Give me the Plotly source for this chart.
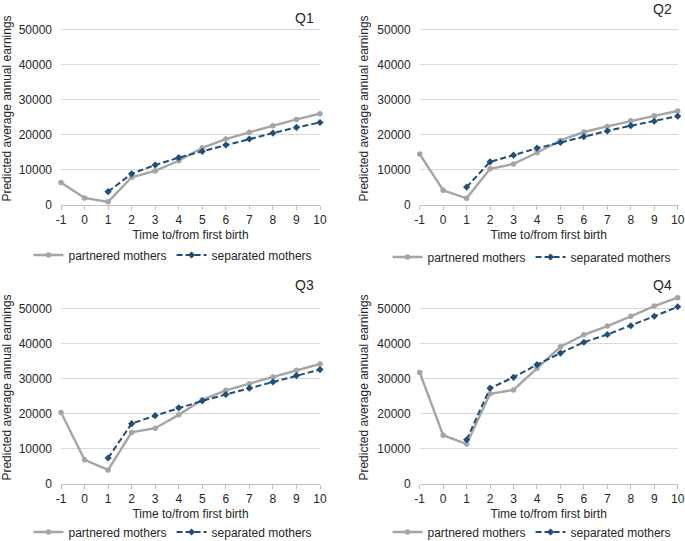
import plotly.graph_objects as go

years = [-1, 0, 1, 2, 3, 4, 5, 6, 7, 8, 9, 10]
sep_years = [1, 2, 3, 4, 5, 6, 7, 8, 9, 10]

q1_partnered = [6400, 2000, 900, 7900, 9700, 12600, 16300, 18800, 20700, 22600, 24400, 26000]
q1_separated = [3800, 8900, 11400, 13500, 15300, 17100, 18800, 20500, 22100, 23500]
q2_partnered = [14500, 4200, 1900, 10300, 11700, 14900, 18400, 20800, 22400, 24000, 25400, 26800]
q2_separated = [5100, 12300, 14200, 16200, 17800, 19500, 21100, 22600, 23900, 25300]
q3_partnered = [20400, 6900, 4000, 14700, 15900, 19700, 24000, 26700, 28600, 30500, 32400, 34200]
q3_separated = [7400, 17200, 19500, 21700, 23700, 25500, 27300, 29100, 30900, 32600]
q4_partnered = [31800, 13900, 11400, 25700, 26800, 33000, 39100, 42500, 45000, 47800, 50700, 53100]
q4_separated = [12600, 27300, 30400, 34000, 37300, 40400, 42600, 45100, 47800, 50500]

panels = ["Q1", "Q2", "Q3", "Q4"]
partnered = [q1_partnered, q2_partnered, q3_partnered, q4_partnered]
separated = [q1_separated, q2_separated, q3_separated, q4_separated]

GRAY = "#A5A5A5"
BLUE = "#1F4E79"
FONT = "Liberation Sans, Arial, sans-serif"
TXT = "#262626"

W, H = 685, 541
xdoms = [[61 / W, 320 / W], [419.7 / W, 677.7 / W]]
ydoms = [[1 - 205 / H, 1 - 12 / H], [1 - 484 / H, 1 - 291 / H]]

fig = go.Figure()
legend_names = ["legend", "legend2", "legend3", "legend4"]
for i in range(4):
    xa = "x" if i == 0 else f"x{i+1}"
    ya = "y" if i == 0 else f"y{i+1}"
    fig.add_trace(go.Scatter(
        x=years, y=partnered[i], mode="lines+markers", name="partnered mothers",
        line=dict(color=GRAY, width=2.4), marker=dict(symbol="circle", size=5.5, color=GRAY),
        xaxis=xa, yaxis=ya, legend=legend_names[i], cliponaxis=False))
    fig.add_trace(go.Scatter(
        x=sep_years, y=separated[i], mode="lines+markers", name="separated mothers",
        line=dict(color=BLUE, width=2, dash="6px,3px"), marker=dict(symbol="diamond", size=5.5, color=BLUE),
        xaxis=xa, yaxis=ya, legend=legend_names[i], cliponaxis=False))

layout = dict(
    width=W, height=H, margin=dict(l=0, r=0, t=0, b=0, autoexpand=False),
    paper_bgcolor="white", plot_bgcolor="white",
    font=dict(family=FONT, size=12, color=TXT),
    showlegend=True,
)
for i in range(4):
    r, c = divmod(i, 2)
    xk = "xaxis" if i == 0 else f"xaxis{i+1}"
    yk = "yaxis" if i == 0 else f"yaxis{i+1}"
    ya = "y" if i == 0 else f"y{i+1}"
    xa = "x" if i == 0 else f"x{i+1}"
    layout[xk] = dict(
        domain=xdoms[c], anchor=ya, range=[-1, 10], tickmode="array", tickvals=years,
        ticktext=[str(v) for v in years], showgrid=False, zeroline=False, automargin=False,
        showline=True, linecolor="#BFBFBF", linewidth=1, ticks="outside", ticklen=4,
        tickcolor="#BFBFBF", tickfont=dict(size=12, color=TXT),
        title=dict(text="Time to/from first birth", font=dict(size=12, color=TXT), standoff=4),
    )
    layout[yk] = dict(
        domain=ydoms[r], anchor=xa, range=[0, 55000], tickmode="array",
        tickvals=[0, 10000, 20000, 30000, 40000, 50000],
        ticktext=["0", "10000", "20000", "30000", "40000", "50000"],
        showgrid=True, gridcolor="#D9D9D9", gridwidth=1, zeroline=False, showline=False,
        ticks="", tickfont=dict(size=12, color=TXT), automargin=False, ticklabelstandoff=8,
        title=dict(text="Predicted average annual earnings", font=dict(size=12, color=TXT), standoff=6),
    )

legend_pos = [(173 / W, 1 - 255 / H), (532 / W, 1 - 257 / H), (173 / W, 1 - 532 / H), (532 / W, 1 - 532 / H)]
for i, ln in enumerate(legend_names):
    lx, ly = legend_pos[i]
    layout[ln] = dict(orientation="h", x=lx, y=ly, xanchor="center", yanchor="middle",
                      font=dict(size=12, color=TXT), bgcolor="rgba(0,0,0,0)",
                      itemwidth=30, tracegroupgap=0)

fig.update_layout(**layout)

title_pos = [(316, 18), (674, 9), (316, 285), (674, 285)]
for i, name in enumerate(panels):
    tx, ty = title_pos[i]
    fig.add_annotation(text=name, x=tx / W, y=1 - ty / H, xref="paper", yref="paper",
                       xanchor="right", yanchor="middle", showarrow=False,
                       font=dict(size=14, color=TXT, family=FONT))

fig.write_html("out.html", config={"displayModeBar": False},
               post_script="document.body.style.margin='0';document.body.style.overflow='hidden';")
